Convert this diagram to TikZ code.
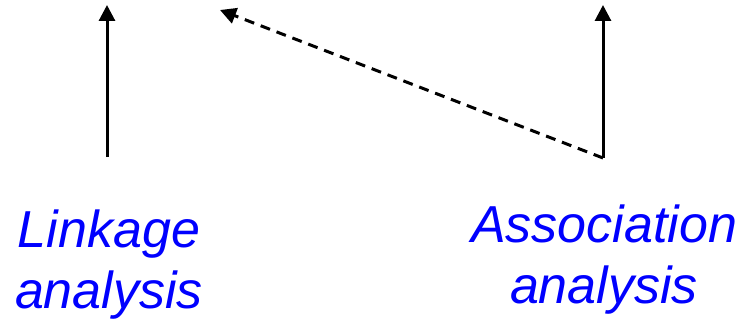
\documentclass[tikz,border=0pt]{standalone}
\usepackage{fontspec}
\setmainfont{Liberation Sans}
\usetikzlibrary{arrows.meta}
\definecolor{labelblue}{RGB}{0,0,255}
\begin{document}
\begin{tikzpicture}[x=1pt,y=-1pt,
  conn/.style={line width=3pt,-{Triangle[length=16pt,width=16pt]}},
  dconn/.style={conn,dash pattern=on 10pt off 7pt},
  lbl/.style={font=\fontsize{52}{61}\selectfont\itshape,text=labelblue,align=center,inner sep=0pt}]
\useasboundingbox (0,0) rectangle (748,321);
\coordinate (lb) at (107,157);
\coordinate (lt) at (107,5);
\coordinate (rb) at (603,158);
\coordinate (rt) at (603,5);
\coordinate (dt) at (220,10);
\draw[conn] (lb) -- (lt);
\draw[conn] (rb) -- (rt);
\draw[dconn] (rb) -- (dt);
\node[lbl,anchor=base] (link) at (109,308) {Linkage\\analysis};
\node[lbl,anchor=base] (assoc) at (604,303) {Association\\analysis};
\end{tikzpicture}
\end{document}
